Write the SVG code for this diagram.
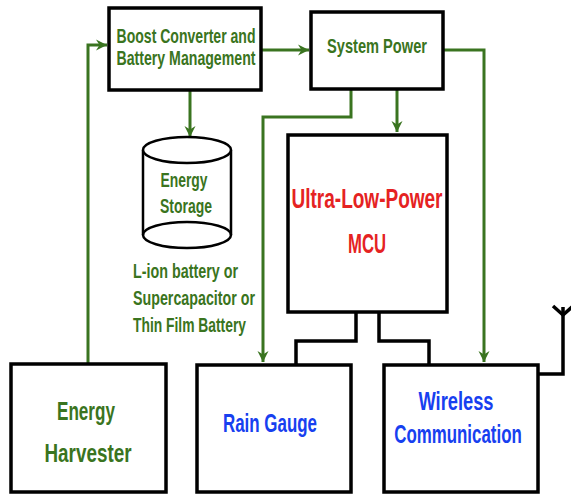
<svg xmlns="http://www.w3.org/2000/svg" width="571" height="495" viewBox="0 0 571 495">
<style>
.box{fill:#fff;stroke:#000;stroke-width:3.5}
.g{fill:none;stroke:#3a7420;stroke-width:3}
.k{fill:none;stroke:#000;stroke-width:3.5}
text{font-family:"Liberation Sans","DejaVu Sans",sans-serif;font-weight:bold;text-anchor:middle}
.tg{fill:#3a7420;font-size:21px}
.tb{fill:#1740f0;font-size:26px}
.tr{fill:#e52222;font-size:27px}
.th{fill:#3a7420;font-size:26px}
</style>
<defs>
<marker id="ah" markerUnits="userSpaceOnUse" markerWidth="12" markerHeight="12" refX="11" refY="6" orient="auto">
<path d="M0,0.5 L11,6 L0,11.5 L3.5,6 z" fill="#3a7420"/>
</marker>
</defs>
<rect width="571" height="495" fill="#fff"/>
<g id="connectors">
<path class="g" d="M88,363 V45 H107" marker-end="url(#ah)"/>
<path class="g" d="M262,50 H309" marker-end="url(#ah)"/>
<path class="g" d="M190,91 V137" marker-end="url(#ah)"/>
<path class="g" d="M397,90 V132" marker-end="url(#ah)"/>
<path class="g" d="M351,90 V117 H263 V362" marker-end="url(#ah)"/>
<path class="g" d="M444,50 H484 V362" marker-end="url(#ah)"/>
<path class="k" d="M356,313 V341 H296 V364"/>
<path class="k" d="M379,313 V341 H429 V364"/>
<path class="k" d="M539,374 H563 V307"/>
<path class="k" d="M553,306 L563,315 L573,306"/>
</g>
<g id="boost">
<rect class="box" x="109" y="8" width="152" height="82"/>
<text class="tg" x="186" y="43" textLength="139" lengthAdjust="spacingAndGlyphs">Boost Converter and</text>
<text class="tg" x="186" y="65" textLength="139" lengthAdjust="spacingAndGlyphs">Battery Management</text>
</g>
<g id="system-power">
<rect class="box" x="311" y="12" width="132" height="77"/>
<text class="tg" x="377" y="53" textLength="100" lengthAdjust="spacingAndGlyphs">System Power</text>
</g>
<g id="storage">
<path d="M143,150 V235 A44,13 0 0 0 231,235 V150" fill="#fff" stroke="#000" stroke-width="2.5"/>
<ellipse cx="187" cy="150" rx="44" ry="13" fill="#fff" stroke="#000" stroke-width="2.5"/>
<path d="M143,235 A44,13 0 0 1 231,235" fill="none" stroke="#000" stroke-width="2.5"/>
<text class="tg" x="184" y="187" textLength="47" lengthAdjust="spacingAndGlyphs">Energy</text>
<text class="tg" x="186" y="213" textLength="52" lengthAdjust="spacingAndGlyphs">Storage</text>
<text class="tg" x="133" y="278" style="text-anchor:start" textLength="105" lengthAdjust="spacingAndGlyphs">L-ion battery or</text>
<text class="tg" x="133" y="305" style="text-anchor:start" textLength="122" lengthAdjust="spacingAndGlyphs">Supercapacitor or</text>
<text class="tg" x="133" y="332" style="text-anchor:start" textLength="113" lengthAdjust="spacingAndGlyphs">Thin Film Battery</text>
</g>
<g id="mcu">
<rect class="box" x="288" y="135" width="159" height="177"/>
<text class="tr" x="367" y="208" textLength="151" lengthAdjust="spacingAndGlyphs">Ultra-Low-Power</text>
<text class="tr" x="367" y="253" textLength="38" lengthAdjust="spacingAndGlyphs">MCU</text>
</g>
<g id="harvester">
<rect class="box" x="11" y="364" width="155" height="128"/>
<text class="th" x="86" y="420" textLength="58" lengthAdjust="spacingAndGlyphs">Energy</text>
<text class="th" x="88" y="462" textLength="87" lengthAdjust="spacingAndGlyphs">Harvester</text>
</g>
<g id="rain-gauge">
<rect class="box" x="197" y="365" width="154" height="127"/>
<text class="tb" x="270" y="432" textLength="94" lengthAdjust="spacingAndGlyphs">Rain Gauge</text>
</g>
<g id="wireless">
<rect class="box" x="384" y="365" width="154" height="127"/>
<text class="tb" x="456" y="410" textLength="75" lengthAdjust="spacingAndGlyphs">Wireless</text>
<text class="tb" transform="translate(458,443) scale(0.65,1)" x="0" y="0">Communication</text>
</g>
</svg>
